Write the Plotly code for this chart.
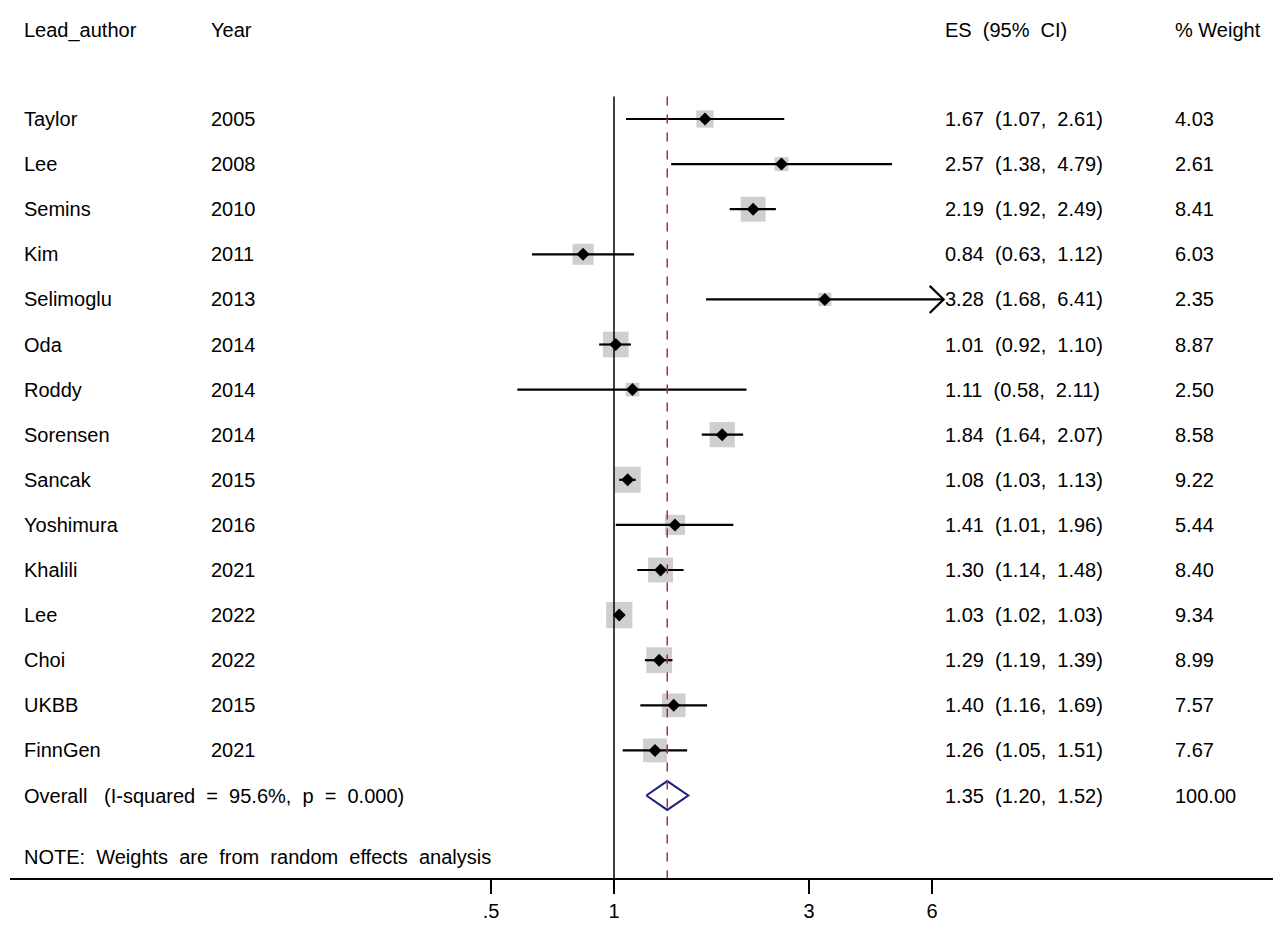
import numpy as np
import plotly.graph_objects as go

authors = ["Taylor", "Lee", "Semins", "Kim", "Selimoglu", "Oda", "Roddy", "Sorensen",
           "Sancak", "Yoshimura", "Khalili", "Lee", "Choi", "UKBB", "FinnGen"]
years = ["2005", "2008", "2010", "2011", "2013", "2014", "2014", "2014",
         "2015", "2016", "2021", "2022", "2022", "2015", "2021"]
es = [1.67, 2.57, 2.19, 0.84, 3.28, 1.01, 1.11, 1.84, 1.08, 1.41, 1.30, 1.03, 1.29, 1.40, 1.26]
lo = [1.07, 1.38, 1.92, 0.63, 1.68, 0.92, 0.58, 1.64, 1.03, 1.01, 1.14, 1.02, 1.19, 1.16, 1.05]
hi = [2.61, 4.79, 2.49, 1.12, 6.41, 1.10, 2.11, 2.07, 1.13, 1.96, 1.48, 1.03, 1.39, 1.69, 1.51]
weights = [4.03, 2.61, 8.41, 6.03, 2.35, 8.87, 2.50, 8.58, 9.22, 5.44, 8.40, 9.34, 8.99, 7.57, 7.67]
overall = (1.35, 1.20, 1.52)
tick_vals = [0.5, 1, 3, 6]
tick_text = [".5", "1", "3", "6"]

W, H = 1281, 934
OFF = 8  # page offset of the plot div
PPD = 408.6  # pixels per decade
FX1 = 614 - OFF  # figure pixel of x=1
ML = 10 - OFF
ROW0, ROWH = 119 - OFF, 45.1
AXY = 878 - OFF


def flog(fp):
    return (fp - FX1) / PPD


def px2log(page_px):
    return flog(page_px - OFF)


FONT = dict(family="Liberation Sans, Arial", size=20, color="black")
n = len(authors)
fig = go.Figure()

fig.add_trace(go.Scatter(
    x=es, y=list(range(n)), mode="markers",
    marker=dict(symbol="square", size=[8.6 * np.sqrt(w) for w in weights],
                color="#bababa", line=dict(width=0)),
    hoverinfo="skip"))

for i in range(n):
    fig.add_trace(go.Scatter(x=[lo[i], hi[i]], y=[i, i], mode="lines",
                             line=dict(color="black", width=2.2), hoverinfo="skip"))

for i in range(n):
    if hi[i] > 6:
        f = 10 ** (14 / PPD)
        fig.add_trace(go.Scatter(x=[hi[i] / f, hi[i], hi[i] / f], y=[i - 0.3, i, i + 0.3],
                                 mode="lines", line=dict(color="black", width=2.2), hoverinfo="skip"))

fig.add_trace(go.Scatter(x=es, y=list(range(n)), mode="markers",
                         marker=dict(symbol="diamond", size=10, color="black"), hoverinfo="skip"))

oy = n
fig.add_trace(go.Scatter(x=[overall[1], overall[0], overall[2], overall[0], overall[1]],
                         y=[oy, oy - 0.32, oy, oy + 0.32, oy], mode="lines",
                         line=dict(color="#1f1f7a", width=2), hoverinfo="skip"))

y_top = -0.5
y_bot = (AXY - ROW0) / ROWH
fig.add_shape(type="line", x0=1, x1=1, y0=y_top, y1=y_bot, xref="x", yref="y",
              line=dict(color="black", width=1.5))
fig.add_shape(type="line", x0=overall[0], x1=overall[0], y0=y_top, y1=y_bot, xref="x", yref="y",
              line=dict(color="#b03030", width=1.5, dash="dash"))

ann = []


def txt(px, y, s):
    ann.append(dict(x=px2log(px - 2), y=y, xref="x", yref="y", text=s, showarrow=False,
                    xanchor="left", font=FONT))


hy = -1.97
txt(24, hy, "Lead_author")
txt(211, hy, "Year")
txt(945, hy, "ES&nbsp;&nbsp;(95%&nbsp;&nbsp;CI)")
txt(1175, hy, "% Weight")
for i in range(n):
    txt(24, i, authors[i])
    txt(211, i, years[i])
    txt(945, i, f"{es[i]:.2f}&nbsp;&nbsp;({lo[i]:.2f},&nbsp;&nbsp;{hi[i]:.2f})")
    txt(1175, i, f"{weights[i]:.2f}")
txt(24, oy, "Overall&nbsp;&nbsp;&nbsp;(I-squared&nbsp;&nbsp;=&nbsp;&nbsp;95.6%,&nbsp;&nbsp;p&nbsp;&nbsp;=&nbsp;&nbsp;0.000)")
txt(945, oy, f"{overall[0]:.2f}&nbsp;&nbsp;({overall[1]:.2f},&nbsp;&nbsp;{overall[2]:.2f})")
txt(1175, oy, "100.00")
txt(24, 16.36, "NOTE:&nbsp;&nbsp;Weights&nbsp;&nbsp;are&nbsp;&nbsp;from&nbsp;&nbsp;random&nbsp;&nbsp;effects&nbsp;&nbsp;analysis")

fig.update_layout(
    width=W, height=H, showlegend=False,
    margin=dict(l=ML, r=0, t=0, b=H - AXY),
    plot_bgcolor="white", paper_bgcolor="white",
    annotations=ann,
    xaxis=dict(type="log", range=[flog(ML), flog(W)], tickvals=tick_vals, ticktext=tick_text,
               showgrid=False, zeroline=False, showline=True, linecolor="black", linewidth=2,
               ticks="outside", ticklen=14, tickwidth=2, tickcolor="black", tickfont=FONT),
    yaxis=dict(range=[y_bot, -ROW0 / ROWH], showgrid=False, zeroline=False, showticklabels=False,
               showline=False),
)
fig.write_html("out.html")
